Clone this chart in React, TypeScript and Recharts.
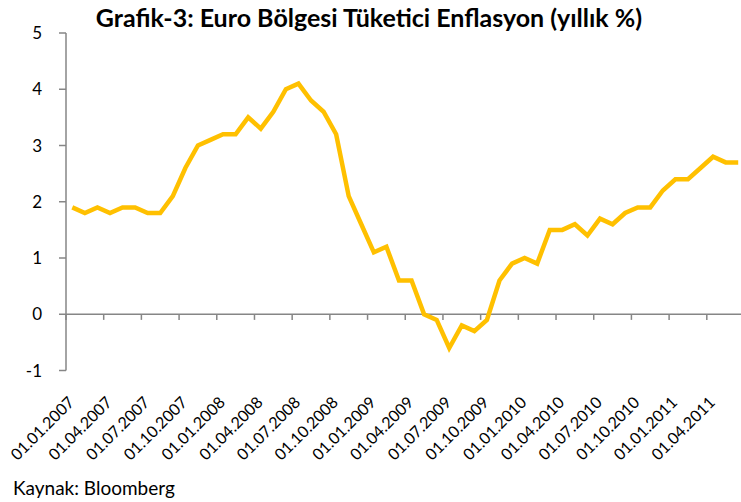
import { LineChart, Line, XAxis, YAxis, ReferenceLine } from 'recharts'

// monthly euro area HICP, 01.2007 - 06.2011
const inflation = [
  1.9, 1.8, 1.9, 1.8, 1.9, 1.9, 1.8, 1.8, 2.1, 2.6, 3.0, 3.1,
  3.2, 3.2, 3.5, 3.3, 3.6, 4.0, 4.1, 3.8, 3.6, 3.2, 2.1, 1.6,
  1.1, 1.2, 0.6, 0.6, 0.0, -0.1, -0.6, -0.2, -0.3, -0.1, 0.6, 0.9,
  1.0, 0.9, 1.5, 1.5, 1.6, 1.4, 1.7, 1.6, 1.8, 1.9, 1.9, 2.2,
  2.4, 2.4, 2.6, 2.8, 2.7, 2.7,
]

const tickLabels = [
  '01.01.2007', '01.04.2007', '01.07.2007', '01.10.2007',
  '01.01.2008', '01.04.2008', '01.07.2008', '01.10.2008',
  '01.01.2009', '01.04.2009', '01.07.2009', '01.10.2009',
  '01.01.2010', '01.04.2010', '01.07.2010', '01.10.2010',
  '01.01.2011', '01.04.2011',
]

const yTicks = [-1, 0, 1, 2, 3, 4, 5]

const data = inflation.map((v, i) => ({ x: i + 0.5, v }))
const labelTicks = tickLabels.map((_, k) => k * 3 + 0.5)
const boundaries = tickLabels.map((_, k) => k * 3)

const axisGray = '#868686'
const font = 'Lato, "Open Sans", sans-serif'

function DateTick({ x, y, payload }: any) {
  const label = tickLabels[Math.floor(payload.value / 3)]
  return (
    <text
      x={x + 3}
      y={y + 33}
      transform={`rotate(-45, ${x + 3}, ${y + 33})`}
      textAnchor="end"
      fontSize={16}
      fontFamily={font}
      fill="#000"
    >
      {label}
    </text>
  )
}

export default function App() {
  return (
    <div style={{ position: 'absolute', left: 0, top: 0, width: 741, height: 502, overflow: 'hidden', background: '#fff' }}>
      <div style={{ position: 'absolute', left: 0, top: 4.5, width: 738, textAlign: 'center', fontFamily: font, fontWeight: 700, fontSize: 25, lineHeight: '25px', color: '#000' }}>
        Grafik-3: Euro Bölgesi Tüketici Enflasyon (yıllık %)
      </div>
      <LineChart width={760} height={502} data={data} margin={{ top: 33, right: 15.5, left: 0, bottom: 31.5 }}>
        <XAxis
          dataKey="x"
          type="number"
          domain={[0, 54]}
          ticks={labelTicks}
          interval={0}
          axisLine={false}
          tickLine={false}
          tickSize={0}
          tickMargin={0}
          height={100}
          tick={<DateTick />}
        />
        <YAxis
          domain={[-1, 5]}
          ticks={yTicks}
          interval={0}
          width={66}
          axisLine={{ stroke: axisGray, strokeWidth: 1.5 }}
          tickLine={{ stroke: axisGray, strokeWidth: 1.5 }}
          tickSize={7}
          tickMargin={17}
          tick={{ fill: '#000', fontSize: 17, fontFamily: font }}
        />
        <ReferenceLine y={0} stroke={axisGray} strokeWidth={1.5} />
        {boundaries.map((b) => (
          <ReferenceLine
            key={b}
            segment={[{ x: b, y: 0 }, { x: b, y: -0.1 }]}
            stroke={axisGray}
            strokeWidth={1.5}
          />
        ))}
        <Line
          type="linear"
          dataKey="v"
          stroke="#FFC000"
          strokeWidth={4.5}
          dot={false}
          activeDot={false}
          isAnimationActive={false}
        />
      </LineChart>
      <div style={{ position: 'absolute', left: 13, top: 478, fontFamily: font, fontSize: 19, lineHeight: '19px', color: '#000' }}>
        Kaynak: Bloomberg
      </div>
    </div>
  )
}
